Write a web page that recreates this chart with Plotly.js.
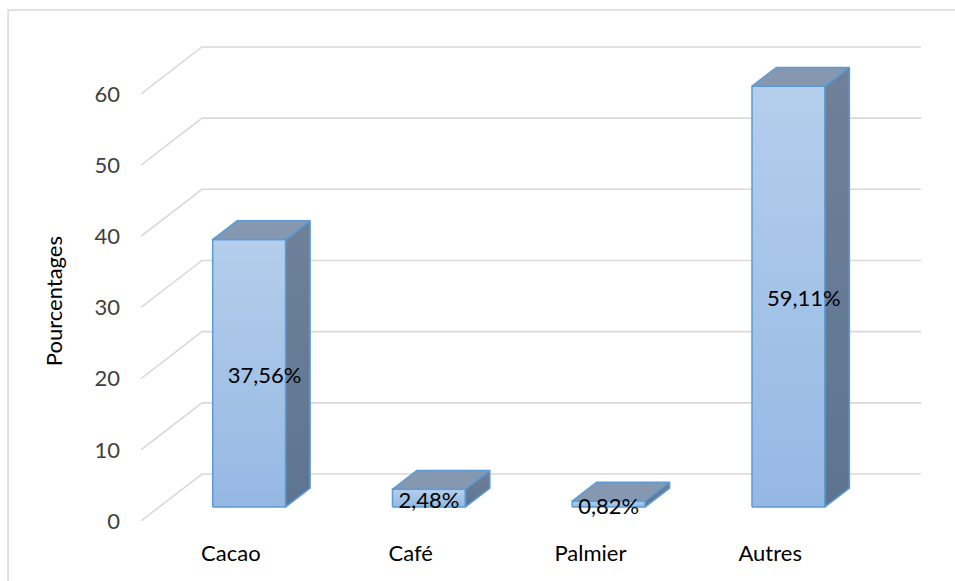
<!DOCTYPE html>
<html>
<head>
<meta charset="utf-8">
<script src="https://cdn.plot.ly/plotly-3.0.1.min.js"></script>
<style>html,body{margin:0;padding:0;background:#fff;}#chart{width:955px;height:581px;}</style>
</head>
<body>
<div id="chart"></div>
<script>
// ---- data ----
const categories = ["Cacao", "Café", "Palmier", "Autres"];
const values = [37.56, 2.48, 0.82, 59.11];
const labels = ["37,56%", "2,48%", "0,82%", "59,11%"];
const yTicks = [0, 10, 20, 30, 40, 50, 60];
const yTitle = "Pourcentages";

// ---- oblique 3D projection (in axis units) ----
const OX = 0.3394;   // wall depth, x shift (category units)
const OY = 6.604;    // wall depth, y shift (value units)
const D0 = 0.3, D1 = 0.7; // bar front/back depth fractions
const HW = 0.203;    // half bar width
const LBL_DY = -0.6; // label vertical nudge (value units)
const P = (u, v, d) => [u + d * OX, v + d * OY];

const FONT = "Lato, 'Open Sans', sans-serif";
const FS = 22;
const traces = [];

// back wall grid lines
yTicks.forEach(t => {
  const a = P(0, t, 0), b = P(0, t, 1), c = P(categories.length, t, 1);
  traces.push({type: "scatter", mode: "lines", x: [a[0], b[0], c[0]], y: [a[1], b[1], c[1]],
    line: {color: "#D9D9D9", width: 1.6}, hoverinfo: "skip", showlegend: false});
});

function poly(pts, fill, grad) {
  const xs = pts.map(p => p[0]).concat([pts[0][0]]);
  const ys = pts.map(p => p[1]).concat([pts[0][1]]);
  const t = {type: "scatter", mode: "lines", x: xs, y: ys, fill: "toself",
    line: {color: "#5B9BD5", width: 1.5}, hoverinfo: "skip", showlegend: false};
  if (grad) t.fillgradient = {type: "vertical", colorscale: grad};
  else t.fillcolor = fill;
  return t;
}

values.forEach((v, i) => {
  const c = i + 0.5, l = c - HW, r = c + HW;
  // front face
  traces.push(poly([P(l, 0, D0), P(r, 0, D0), P(r, v, D0), P(l, v, D0)], null,
    [[0, "#95B8E3"], [1, "#B4CEEC"]]));
  // top face
  traces.push(poly([P(l, v, D0), P(r, v, D0), P(r, v, D1), P(l, v, D1)], "#8698B0"));
  // side face
  traces.push(poly([P(r, 0, D0), P(r, 0, D1), P(r, v, D1), P(r, v, D0)], null,
    [[0, "#5D7491"], [1, "#6F8199"]]));
});

// data labels
const lx = values.map((v, i) => P(i + 0.5 + (v > 10 ? 0.085 : 0), v / 2, D0)[0]);
const ly = values.map((v, i) => P(0, v / 2 + LBL_DY, D0)[1]);
traces.push({type: "scatter", mode: "text", x: lx, y: ly, text: labels,
  textposition: "middle center", cliponaxis: false,
  textfont: {family: FONT, size: FS, color: "#000000"}, hoverinfo: "skip", showlegend: false});

const layout = {
  width: 955, height: 581,
  margin: {l: 141, r: 25, t: 10, b: 60},
  paper_bgcolor: "#ffffff", plot_bgcolor: "rgba(0,0,0,0)",
  showlegend: false,
  xaxis: {range: [0, 4.389], tickvals: categories.map((_, i) => i + 0.5), ticktext: categories,
    showgrid: false, zeroline: false, showline: false, ticks: "", ticklabelstandoff: 17,
    tickfont: {family: FONT, size: FS, color: "#000000"}, fixedrange: true},
  yaxis: {range: [0, 71.8], tickvals: yTicks, showgrid: false, zeroline: false, showline: false,
    ticks: "", ticklabelstandoff: 20, tickfont: {family: FONT, size: FS, color: "#404040"}, fixedrange: true},
  annotations: [{text: yTitle, xref: "paper", yref: "paper", x: -0.111, y: 0.431, xanchor: "center", yanchor: "middle",
    textangle: -90, showarrow: false, font: {family: FONT, size: FS, color: "#000000"}}],
  shapes: [{type: "rect", xref: "paper", yref: "paper", x0: -0.1685, x1: 1.1, y0: -0.2, y1: 1.0,
    line: {color: "#D9D9D9", width: 1.5}, fillcolor: "rgba(0,0,0,0)", layer: "below"}]
};

Plotly.newPlot("chart", traces, layout, {displayModeBar: false, staticPlot: true});
</script>
</body>
</html>
